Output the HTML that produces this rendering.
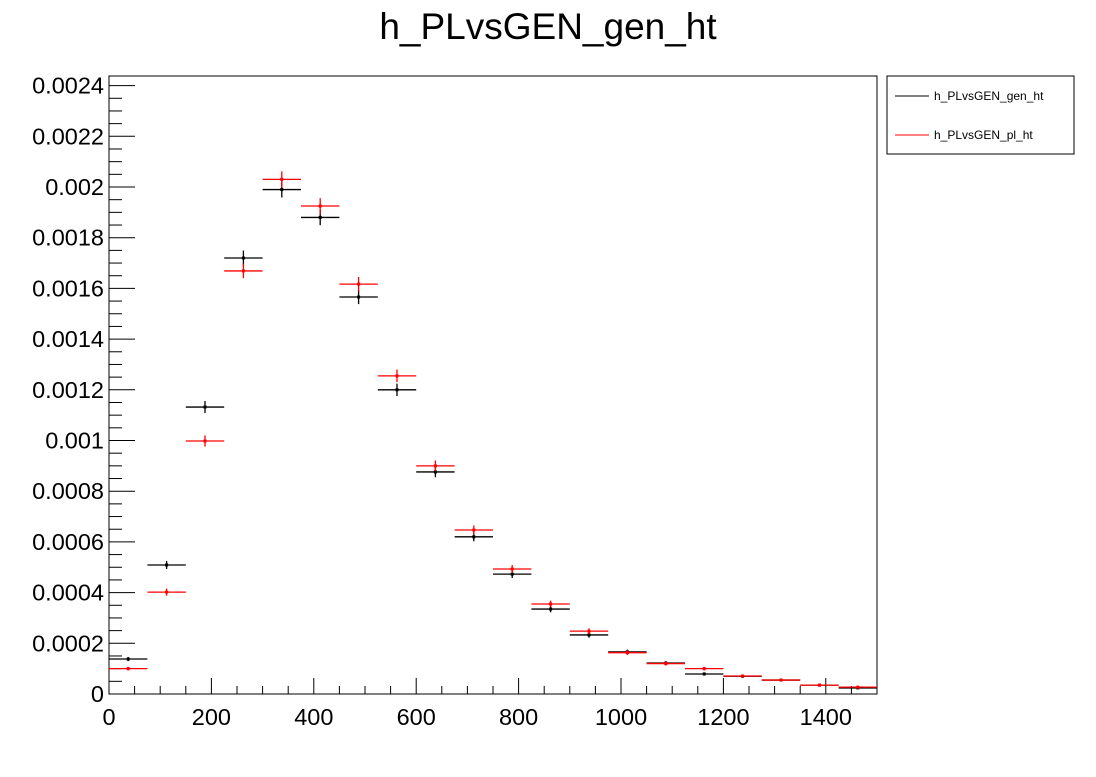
<!DOCTYPE html>
<html><head><meta charset="utf-8"><style>
body{margin:0;background:#fff;}
svg text{font-family:"Liberation Sans",sans-serif;}
</style></head><body>
<svg id="c" width="1096" height="772" xmlns="http://www.w3.org/2000/svg">
<rect width="1096" height="772" fill="#fff"/>
<text x="548" y="39" font-size="37" text-anchor="middle">h_PLvsGEN_gen_ht</text>
<rect x="109" y="76" width="768" height="618" fill="none" stroke="#000" stroke-width="1"/>
<g id="axes"></g>
<g id="marks"></g>
<g>
<rect x="887" y="76" width="187" height="78" fill="#fff" stroke="#000"/>
<line x1="895" y1="96" x2="929" y2="96" stroke="#000"/>
<text x="934" y="100" font-size="12">h_PLvsGEN_gen_ht</text>
<line x1="895" y1="135" x2="929" y2="135" stroke="#f00"/>
<text x="934" y="139" font-size="12">h_PLvsGEN_pl_ht</text>
</g>
</svg>
<script>
const binEdges0 = 0, binWidth = 75;
const genValues = [0.000138,0.000509,0.001132,0.00172,0.00199,0.00188,0.001566,0.0012,0.000876,0.00062,0.000473,0.000335,0.000233,0.000166,0.000122,0.000079,0.00007,0.000055,0.000035,0.000024];
const plValues  = [0.0001,0.000402,0.000998,0.001669,0.00203,0.001925,0.001617,0.001255,0.0009,0.000647,0.000493,0.000355,0.000248,0.000163,0.00012,0.0001,0.000071,0.000055,0.000035,0.000027];
const xTicks = [0,200,400,600,800,1000,1200,1400];
const yTicks = [0,0.0002,0.0004,0.0006,0.0008,0.001,0.0012,0.0014,0.0016,0.0018,0.002,0.0022,0.0024];
const yTickLabels = ["0","0.0002","0.0004","0.0006","0.0008","0.001","0.0012","0.0014","0.0016","0.0018","0.002","0.0022","0.0024"];

const X0=109,X1=877,Y0=694,Y1=76, xmax=1500, ymax=0.0024379;
const sx=v=>X0+(X1-X0)*v/xmax;
const sy=v=>Y0-(Y0-Y1)*v/ymax;
const NS="http://www.w3.org/2000/svg";
function mk(tag,attrs,parent){const e=document.createElementNS(NS,tag);for(const k in attrs)e.setAttribute(k,attrs[k]);parent.appendChild(e);return e;}
const axes=document.getElementById('axes'), marks=document.getElementById('marks');
for(let v=0;v<=xmax;v+=50){
  const major=v%200===0;
  const t=mk('line',{x1:sx(v),x2:sx(v),y1:Y0,y2:Y0-(major?16:8),stroke:'#000'},axes);
  
  
}
xTicks.forEach(v=>{
  const t=mk('text',{x:sx(v),y:Y0+31,'font-size':23.5,'text-anchor':'middle'},axes);
  t.textContent=String(v);
  
  
});
for(let i=0;i*0.00005<=ymax;i++){
  const v=i*0.00005, major=i%4===0;
  const t=mk('line',{x1:X0,x2:X0+(major?26:13),y1:sy(v),y2:sy(v),stroke:'#000'},axes);
  
  
}
yTicks.forEach((v,i)=>{
  const t=mk('text',{x:X0-5,y:sy(v)+8,'font-size':23.5,'text-anchor':'end'},axes);
  t.textContent=yTickLabels[i];
  
  
});
function series(vals,color,name){
  vals.forEach((v,i)=>{
    const lo=binEdges0+i*binWidth, c=lo+binWidth/2;
    const err=0.0000315*Math.sqrt(v/0.002);
    const g=mk('g',{stroke:color,'stroke-width':1.3},marks);
    
    
    mk('line',{x1:sx(lo),x2:sx(lo+binWidth),y1:sy(v),y2:sy(v)},g);
    mk('line',{x1:sx(c),x2:sx(c),y1:sy(v+err),y2:sy(v-err)},g);
    mk('rect',{x:sx(c)-1.5,y:sy(v)-1.5,width:3,height:3,fill:color,stroke:'none'},g);
  });
}
series(genValues,'#000','gen');
series(plValues,'#f00','pl');
</script>
</body></html>
